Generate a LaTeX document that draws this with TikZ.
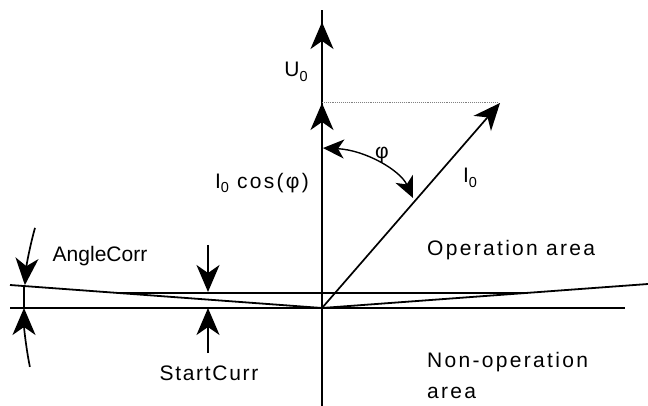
\documentclass[tikz,border=0pt]{standalone}
\usepackage{fontspec}
\setmainfont{Liberation Sans}
\usetikzlibrary{arrows.meta}
\newcommand{\sub}[1]{\raisebox{-0.4ex}{\fontsize{14.5}{16}\selectfont #1}}
\begin{document}
\begin{tikzpicture}[x=1pt,y=-1pt,
  line/.style={line width=1.8pt},
  thin/.style={line width=1.3pt},
  big/.style={line width=1.7pt,-{Stealth[length=27pt,width=23pt,inset=8pt]}},
  small/.style={line width=1.4pt,{Stealth[length=21pt,width=19pt,inset=6pt]}-{Stealth[length=21pt,width=19pt,inset=6pt]}},
  lab/.style={inner sep=0pt,font=\fontsize{21}{25}\selectfont},
  wide/.style={inner sep=0pt,font=\fontsize{21}{25}\selectfont\addfontfeature{LetterSpace=11}},
  wider/.style={inner sep=0pt,font=\fontsize{21}{25}\selectfont\addfontfeature{LetterSpace=8}}]
\useasboundingbox (0,0) rectangle (648,406);
% coordinates
\coordinate (O) at (322,308);
\coordinate (Atop) at (322,10);
\coordinate (Abot) at (322,406);
\coordinate (Ua) at (322,60);
\coordinate (Ub) at (322,22);
\coordinate (Ca) at (322,140);
\coordinate (Cb) at (322,103);
\coordinate (D1) at (322,102);
\coordinate (D2) at (497,102);
\coordinate (I) at (500,103);
\coordinate (L1) at (10,285);
\coordinate (R1) at (648,284);
\coordinate (S1) at (118,293);
\coordinate (S2) at (526,293);
\coordinate (H1) at (10,308);
\coordinate (H2) at (625,308);
\coordinate (SA1) at (208,245);
\coordinate (SA2) at (208,292);
\coordinate (SB1) at (208,353);
\coordinate (SB2) at (208,308);
\coordinate (T1) at (24,286);
\coordinate (T2) at (24,308);
\coordinate (P1) at (323,148);
\coordinate (P2) at (413,198);
% axes and lines
\draw[line] (Abot) -- (Atop);
\draw[big] (Ua) -- (Ub);
\draw[big] (Ca) -- (Cb);
\draw[densely dotted,gray,line width=0.9pt] (D1) -- (D2);
\draw[big] (O) -- (I);
\draw[line] (L1) -- (O) -- (R1);
\draw[thin] (S1) -- (S2);
\draw[thin] (H1) -- (H2);
% StartCurr arrows
\draw[big] (SA1) -- (SA2);
\draw[big] (SB1) -- (SB2);
% AngleCorr
\draw[thin] (T1) -- (T2);
\draw[big] (O) ++(195.6:298) arc[start angle=195.6,end angle=184.4,radius=298];
\draw[big] (O) ++(168.6:298) arc[start angle=168.6,end angle=180,radius=298];
% phi arc
\draw[small] (P1) .. controls (365,150) and (400,170) .. (P2);
% labels
\node[lab] (u0) at (296,72) {U\sub{0}};
\node[lab] (i0) at (470,178) {I\sub{0}};
\node[wide] (icos) at (262,183) {I\sub{0} cos(φ)};
\node[lab] (phi) at (382,155) {φ};
\node[lab] (ac) at (100,256) {AngleCorr};
\node[wider] (sc) at (209,373) {StartCurr};
\node[wide,anchor=west] (op) at (427,250) {Operation area};
\node[wide,anchor=west] (nop) at (427,362) {Non-operation};
\node[wide,anchor=west] (nop2) at (427,393) {area};
\end{tikzpicture}
\end{document}
